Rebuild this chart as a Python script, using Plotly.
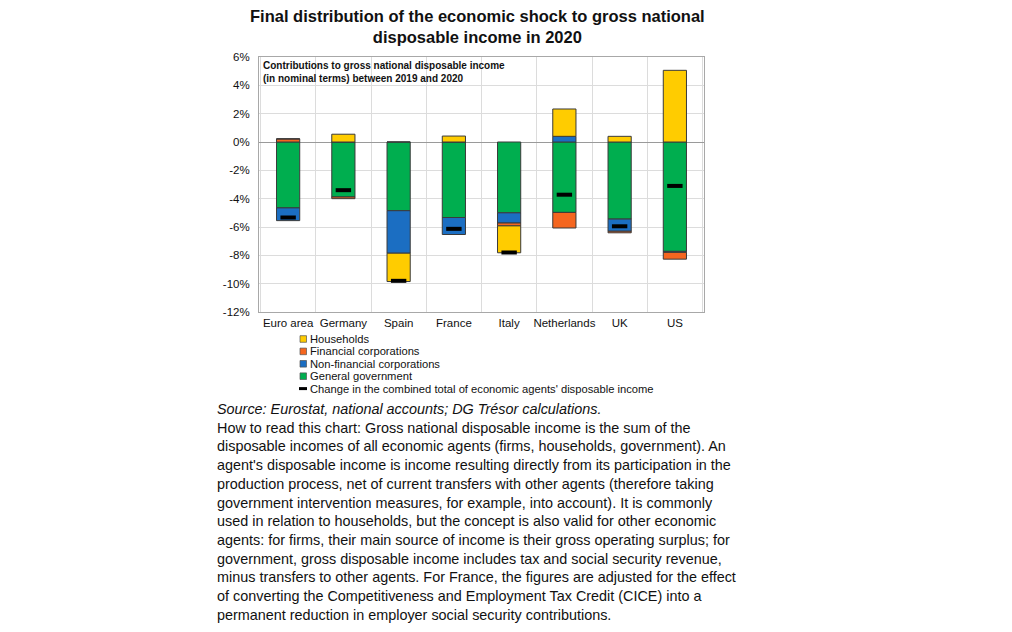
import plotly.graph_objects as go

categories = ["Euro area", "Germany", "Spain", "France", "Italy", "Netherlands", "UK", "US"]
households = [0.0, 0.55, -2.0, 0.42, -1.9, 1.93, 0.4, 5.06]
financial_corps = [0.22, -0.12, 0.0, 0.0, -0.2, -1.1, -0.11, -0.48]
nonfinancial_corps = [-0.9, 0.0, -3.0, -1.2, -0.72, 0.4, -0.86, -0.07]
general_gov = [-4.65, -3.88, -4.85, -5.33, -5.0, -4.97, -5.44, -7.72]
total_change = [-5.33, -3.4, -9.8, -6.13, -7.8, -3.72, -5.95, -3.1]
y_ticks = [-12, -10, -8, -6, -4, -2, 0, 2, 4, 6]
y_tick_labels = [f"{v}%" for v in y_ticks]

series = [
    ("General government", general_gov, "#00AE4F"),
    ("Non-financial corporations", nonfinancial_corps, "#1B6EC2"),
    ("Financial corporations", financial_corps, "#F5661F"),
    ("Households", households, "#FFCC00"),
]

W, H = 1012, 632
OFF = 8  # default body margin of the page


def px(x):
    return (x - OFF) / W


def py(y):
    return 1 - (y - OFF) / H


fig = go.Figure()
for name, vals, col in series:
    fig.add_trace(go.Bar(
        x=categories, y=vals, name=name,
        marker=dict(color=col, line=dict(color="#3a3a3a", width=1)),
    ))
fig.add_trace(go.Scatter(
    x=categories, y=total_change, mode="markers",
    name="Change in the combined total of economic agents' disposable income",
    marker=dict(symbol="line-ew-open", size=11, color="black",
                line=dict(color="black", width=4)),
))

fig.update_layout(
    width=W, height=H,
    paper_bgcolor="white", plot_bgcolor="white",
    margin=dict(l=0, r=0, t=0, b=0),
    barmode="relative", bargap=0.58,
    showlegend=False,
    font=dict(family="Liberation Sans, Arial, sans-serif", color="#111"),
    xaxis=dict(domain=[px(259), px(704)], tickson="boundaries", tickangle=0,
               showgrid=True, gridcolor="#DCDCDC", gridwidth=1,
               ticks="", showline=True, linecolor="#A8A8A8", mirror=True,
               tickfont=dict(size=11.5, color="#111"), automargin=False),
    yaxis=dict(domain=[py(312), py(57)], range=[-12, 6],
               tickmode="array", tickvals=y_ticks, ticktext=y_tick_labels,
               showgrid=True, gridcolor="#DCDCDC", gridwidth=1,
               zeroline=True, zerolinecolor="#9A9A9A", zerolinewidth=1,
               showline=True, linecolor="#A8A8A8", mirror=True,
               ticks="", ticklabelstandoff=6,
               tickfont=dict(size=11.5, color="#111"), automargin=False),
)

fig.add_annotation(
    text="<b>Final distribution of the economic shock to gross national<br>disposable income in 2020</b>",
    xref="paper", yref="paper", x=px(477), y=py(5), xanchor="center", yanchor="top",
    showarrow=False, font=dict(size=16.5, color="#111"), align="center")

fig.add_annotation(
    text="<b>Contributions to gross national disposable income<br>(in nominal terms) between 2019 and 2020</b>",
    xref="paper", yref="paper", x=px(261), y=py(58), xanchor="left", yanchor="top",
    showarrow=False, font=dict(size=10, color="#111"), align="left")

# manual legend
legend_items = [
    ("Households", "#FFCC00", "sq"),
    ("Financial corporations", "#F5661F", "sq"),
    ("Non-financial corporations", "#1B6EC2", "sq"),
    ("General government", "#00AE4F", "sq"),
    ("Change in the combined total of economic agents' disposable income", "black", "ln"),
]
lx, ly0, dy = 300, 339, 12.4
for i, (lab, col, kind) in enumerate(legend_items):
    yc = ly0 + i * dy
    if kind == "sq":
        fig.add_shape(type="rect", xref="paper", yref="paper",
                      x0=px(lx), x1=px(lx + 6.5), y0=py(yc + 3.3), y1=py(yc - 3.3),
                      fillcolor=col, line=dict(color="#555", width=0.7))
    else:
        fig.add_shape(type="line", xref="paper", yref="paper",
                      x0=px(lx - 1), x1=px(lx + 7), y0=py(yc), y1=py(yc),
                      line=dict(color="black", width=3))
    fig.add_annotation(text=lab, xref="paper", yref="paper",
                       x=px(lx + 8), y=py(yc), xanchor="left", yanchor="middle",
                       showarrow=False, font=dict(size=11.2, color="#111"))

body = ("<i>Source: Eurostat, national accounts; DG Trésor calculations.</i><br>"
        "How to read this chart: Gross national disposable income is the sum of the<br>"
        "disposable incomes of all economic agents (firms, households, government). An<br>"
        "agent's disposable income is income resulting directly from its participation in the<br>"
        "production process, net of current transfers with other agents (therefore taking<br>"
        "government intervention measures, for example, into account). It is commonly<br>"
        "used in relation to households, but the concept is also valid for other economic<br>"
        "agents: for firms, their main source of income is their gross operating surplus; for<br>"
        "government, gross disposable income includes tax and social security revenue,<br>"
        "minus transfers to other agents. For France, the figures are adjusted for the effect<br>"
        "of converting the Competitiveness and Employment Tax Credit (CICE) into a<br>"
        "permanent reduction in employer social security contributions.")
fig.add_annotation(text=body, xref="paper", yref="paper", x=px(215), y=py(399),
                   xanchor="left", yanchor="top", showarrow=False, align="left",
                   font=dict(size=14.4, color="#111"))

fig.write_html("out.html")
